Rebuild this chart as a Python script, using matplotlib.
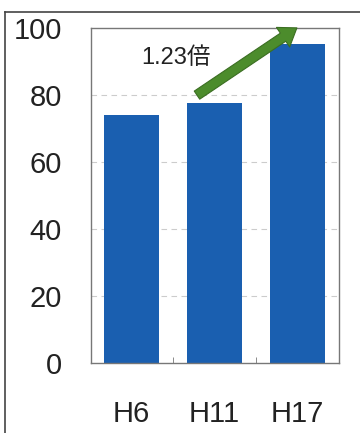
import matplotlib
matplotlib.use('Agg')
from matplotlib import pyplot as plt  # noqa
from matplotlib.lines import Line2D

categories = ['H6', 'H11', 'H17']
values = [74.0, 77.5, 95.3]
y_ticks = [0, 20, 40, 60, 80, 100]
ratio_label = '1.23倍'

BAR_COLOR = '#1a5fb0'
ARROW_COLOR = '#4c8c2c'

fig = plt.figure(figsize=(3.6, 4.33), dpi=100)
ax = fig.add_axes([0.2528, 0.1617, 0.6889, 0.7736])

x = list(range(len(categories)))
ax.bar(x, values, width=0.66, color=BAR_COLOR, zorder=2)

ax.set_xlim(-0.49, 2.5)
ax.set_ylim(0, 100)
ax.set_yticks(y_ticks)
ax.set_yticklabels([str(v) for v in y_ticks], fontsize=21, family='Liberation Sans', color='#222222')
ax.set_xticks(x)
ax.set_xticklabels(categories, fontsize=21, family='Liberation Sans', color='#222222')
ax.tick_params(axis='y', length=0, pad=21)
ax.tick_params(axis='x', length=0, pad=27)
ax.set_xticks([0.5, 1.5], minor=True)
ax.tick_params(axis='x', which='minor', direction='in', length=4, color='#777777')

for v in y_ticks[1:-1]:
    ax.axhline(v, color='#cccccc', lw=0.8, ls=(0, (5, 4)), zorder=1)

for s in ax.spines.values():
    s.set_color('#777777')
    s.set_linewidth(1.0)

# growth arrow
ax.annotate('', xy=(2.02, 100.5), xytext=(0.76, 79.5),
            arrowprops=dict(arrowstyle='simple,head_width=1.7,head_length=1.2,tail_width=0.7',
                            fc=ARROW_COLOR, ec='#3b6e22', lw=0.8),
            annotation_clip=False, zorder=4)
ax.text(0.53, 91, ratio_label, fontsize=17, ha='center', va='center',
        family=['Liberation Sans', 'Noto Sans CJK JP'], color='#222222')

# outer frame of the scanned figure
fig.add_artist(Line2D([5 / 360, 1.0], [1 - 12 / 433, 1 - 12 / 433],
                      transform=fig.transFigure, color='#444444', lw=1.2))
fig.add_artist(Line2D([5 / 360, 5 / 360], [0, 1 - 12 / 433],
                      transform=fig.transFigure, color='#444444', lw=1.2))

fig.savefig('out.png', dpi=100)
